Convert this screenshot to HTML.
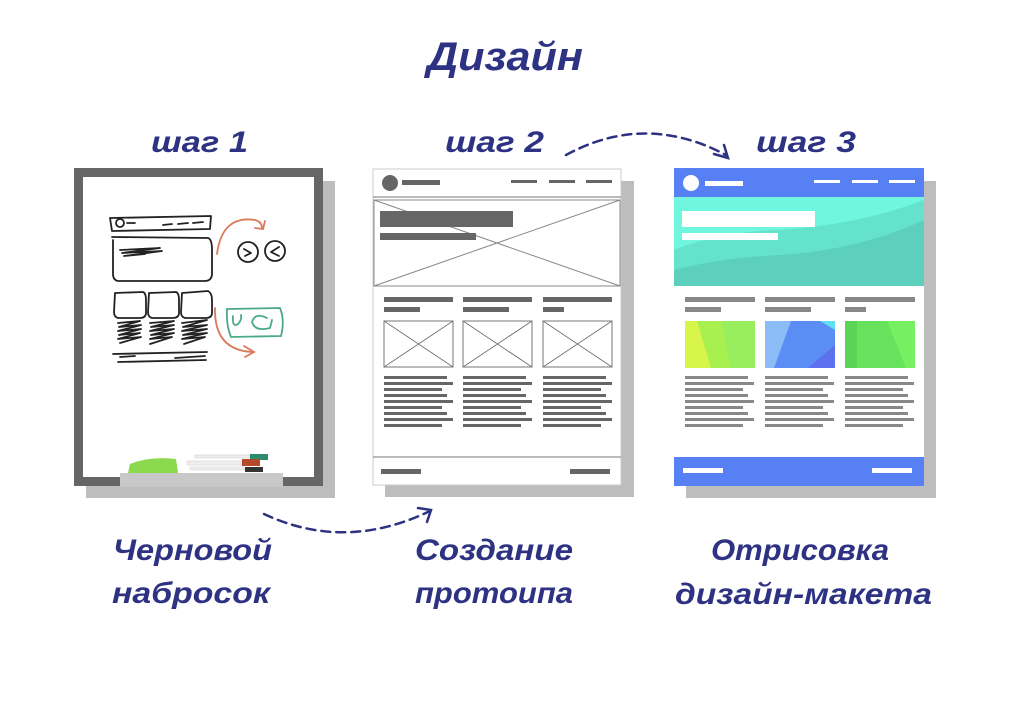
<!DOCTYPE html>
<html><head><meta charset="utf-8"><style>
html,body{margin:0;padding:0;background:#fff;}
svg{display:block;}
.t{font-family:"Liberation Sans","DejaVu Sans",sans-serif;font-weight:bold;font-style:italic;fill:#2d3282;}
</style></head><body>
<svg width="1024" height="728" viewBox="0 0 1024 728" xmlns="http://www.w3.org/2000/svg">
<rect width="1024" height="728" fill="#fff"/>
<text class="t" x="427" y="70" font-size="40" textLength="156" lengthAdjust="spacingAndGlyphs">Дизайн</text>
<text class="t" x="151" y="152" font-size="30" textLength="97" lengthAdjust="spacingAndGlyphs">шаг  1</text>
<text class="t" x="445" y="152" font-size="30" textLength="99" lengthAdjust="spacingAndGlyphs">шаг  2</text>
<text class="t" x="756" y="152" font-size="30" textLength="100" lengthAdjust="spacingAndGlyphs">шаг  3</text>
<text class="t" x="113" y="560" font-size="30" textLength="159" lengthAdjust="spacingAndGlyphs">Черновой</text>
<text class="t" x="112" y="603" font-size="30" textLength="158" lengthAdjust="spacingAndGlyphs">набросок</text>
<text class="t" x="415" y="560" font-size="30" textLength="158" lengthAdjust="spacingAndGlyphs">Создание</text>
<text class="t" x="415" y="603" font-size="30" textLength="158" lengthAdjust="spacingAndGlyphs">протоипа</text>
<text class="t" x="711" y="560" font-size="30" textLength="178" lengthAdjust="spacingAndGlyphs">Отрисовка</text>
<text class="t" x="675" y="604" font-size="30" textLength="257" lengthAdjust="spacingAndGlyphs">дизайн-макета</text>

<!-- arrows -->
<g fill="none" stroke="#2d3282" stroke-width="2.5" stroke-linecap="round">
<path d="M566 155 Q645 112 726 155" stroke-dasharray="9 6"/>
<path d="M714 154 L728 158 L724 145"/>
<path d="M264 514 Q345 552 430 511" stroke-dasharray="9 6"/>
<path d="M418 508 L431 510 L427 522"/>
</g>

<!-- card 1 whiteboard -->
<rect x="86" y="181" width="249" height="317" fill="#bdbdbd"/>
<rect x="74" y="168" width="249" height="318" fill="#666"/>
<rect x="83" y="177" width="231" height="300" fill="#fff"/>
<rect x="120" y="473" width="163" height="14" fill="#c8c8c8"/>
<path d="M128 473 L130 464 Q150 456 176 459 L178 473 Z" fill="#8cd94e"/>
<rect x="195" y="455" width="55" height="3" fill="#eee" stroke="#ccc" stroke-width=".5"/>
<rect x="250" y="454" width="18" height="6" fill="#2e8c6e"/>
<rect x="187" y="461" width="55" height="4" fill="#eee" stroke="#ccc" stroke-width=".5"/>
<rect x="242" y="459" width="18" height="7" fill="#b44a2a"/>
<rect x="190" y="467" width="55" height="3" fill="#eee" stroke="#ccc" stroke-width=".5"/>
<rect x="245" y="467" width="18" height="5" fill="#333"/>
<g fill="none" stroke="#222" stroke-width="1.8" stroke-linecap="round" stroke-linejoin="round">
<path d="M110 218 L211 216 L210 229 L112 231 Z"/>
<circle cx="120" cy="223" r="4"/>
<path d="M127 223 L135 223 M163 225 L172 224 M178 224 L188 223 M193 223 L203 222"/>
<path d="M112 237 L208 238 Q212 239 212 250 L212 275 Q211 281 205 281 L118 281 Q113 280 113 274 L113 240"/>
<path d="M120 250 L160 248 L122 253 L162 251 L124 256 L145 254"/>
<path d="M115 293 L143 292 Q146 293 146 300 L146 314 Q145 318 140 318 L118 318 Q114 317 114 312 Z"/>
<path d="M149 293 L176 292 Q179 293 179 300 L179 314 Q178 318 173 318 L152 318 Q148 317 148 312 Z"/>
<path d="M182 293 L208 291 Q212 293 212 300 L212 314 Q211 318 206 318 L185 318 Q181 317 181 312 Z"/>
<path d="M118 323 L140 321 L119 327 L141 325 L118 331 L141 329 L119 335 L140 333 L118 339 L141 337 L120 343"/>
<path d="M150 323 L174 321 L151 327 L174 325 L150 331 L174 329 L151 335 L174 333 L150 339 L172 337 L150 344"/>
<path d="M182 323 L207 320 L183 327 L207 325 L182 331 L207 329 L183 335 L207 333 L182 339 L205 337 L184 344"/>
<path d="M113 354 L207 352 M120 357 L135 356 M175 358 L205 356 M118 362 L206 360"/>
<circle cx="248" cy="252" r="10"/>
<circle cx="275" cy="251" r="10"/>
<path d="M244 249 L251 253 L245 256 M279 247 L271 252 L279 256"/>
</g>
<g fill="none" stroke="#d97a5a" stroke-width="1.8" stroke-linecap="round">
<path d="M217 254 Q222 215 255 220 Q262 222 262 228"/>
<path d="M255 228 L263 229 L265 221"/>
<path d="M215 308 Q214 350 252 352"/>
<path d="M244 346 L254 352 L245 357"/>
</g>
<g fill="none" stroke="#4aaa88" stroke-width="1.8" stroke-linecap="round">
<path d="M227 309 L280 308 Q285 320 281 336 L231 337 Q226 325 227 309 Z"/>
<path d="M233 316 Q232 328 238 324 Q242 320 241 315"/>
<path d="M267 318 Q255 312 252 322 Q255 332 270 328 L272 320"/>
</g>

<!-- card 2 wireframe -->
<rect x="385" y="181" width="249" height="316" fill="#bdbdbd"/>
<rect x="373" y="169" width="248" height="316" fill="#fff" stroke="#ccc" stroke-width="1"/>
<circle cx="390" cy="183" r="8" fill="#666"/>
<rect x="402" y="180" width="38" height="5" fill="#666"/>
<rect x="511" y="180" width="26" height="3" fill="#666"/>
<rect x="549" y="180" width="26" height="3" fill="#666"/>
<rect x="586" y="180" width="26" height="3" fill="#666"/>
<line x1="373" y1="197" x2="621" y2="197" stroke="#777" stroke-width="1"/>
<rect x="374" y="200" width="246" height="86" fill="none" stroke="#888" stroke-width="1"/>
<line x1="374" y1="200" x2="620" y2="286" stroke="#888"/>
<line x1="620" y1="200" x2="374" y2="286" stroke="#888"/>
<rect x="380" y="211" width="133" height="16" fill="#666"/>
<rect x="380" y="233" width="96" height="7" fill="#666"/>
<g fill="#666">
<rect x="384" y="297" width="69" height="5"/><rect x="384" y="307" width="36" height="5"/>
<rect x="463" y="297" width="69" height="5"/><rect x="463" y="307" width="46" height="5"/>
<rect x="543" y="297" width="69" height="5"/><rect x="543" y="307" width="21" height="5"/>
</g>
<g fill="none" stroke="#777" stroke-width="1">
<rect x="384" y="321" width="69" height="46"/><path d="M384 321 L453 367 M453 321 L384 367"/>
<rect x="463" y="321" width="69" height="46"/><path d="M463 321 L532 367 M532 321 L463 367"/>
<rect x="543" y="321" width="69" height="46"/><path d="M543 321 L612 367 M612 321 L543 367"/>
</g>
<g fill="#666">
<rect x="384" y="376" width="63" height="3"/><rect x="384" y="382" width="69" height="3"/><rect x="384" y="388" width="58" height="3"/>
<rect x="384" y="394" width="63" height="3"/><rect x="384" y="400" width="69" height="3"/><rect x="384" y="406" width="58" height="3"/>
<rect x="384" y="412" width="63" height="3"/><rect x="384" y="418" width="69" height="3"/><rect x="384" y="424" width="58" height="3"/>
<rect x="463" y="376" width="63" height="3"/><rect x="463" y="382" width="69" height="3"/><rect x="463" y="388" width="58" height="3"/>
<rect x="463" y="394" width="63" height="3"/><rect x="463" y="400" width="69" height="3"/><rect x="463" y="406" width="58" height="3"/>
<rect x="463" y="412" width="63" height="3"/><rect x="463" y="418" width="69" height="3"/><rect x="463" y="424" width="58" height="3"/>
<rect x="543" y="376" width="63" height="3"/><rect x="543" y="382" width="69" height="3"/><rect x="543" y="388" width="58" height="3"/>
<rect x="543" y="394" width="63" height="3"/><rect x="543" y="400" width="69" height="3"/><rect x="543" y="406" width="58" height="3"/>
<rect x="543" y="412" width="63" height="3"/><rect x="543" y="418" width="69" height="3"/><rect x="543" y="424" width="58" height="3"/>
<rect x="381" y="469" width="40" height="5"/><rect x="570" y="469" width="40" height="5"/>
</g>
<line x1="373" y1="457" x2="621" y2="457" stroke="#777" stroke-width="1"/>

<!-- card 3 design -->
<rect x="686" y="181" width="250" height="317" fill="#bdbdbd"/>
<rect x="674" y="168" width="250" height="318" fill="#fff"/>
<rect x="674" y="168" width="250" height="30" fill="#5780f5"/>
<rect x="674" y="197" width="250" height="89" fill="#5ccfbd"/>
<path d="M674 197 L924 197 L924 200 Q860 225 780 230 Q720 232 674 250 Z" fill="#70f5de"/>
<path d="M674 250 Q720 232 780 230 Q860 225 924 200 L924 220 Q860 250 780 255 Q720 258 674 270 Z" fill="#64e2cc"/>
<circle cx="691" cy="183" r="8" fill="#fff"/>
<rect x="705" y="181" width="38" height="5" fill="#fff"/>
<rect x="814" y="180" width="26" height="3" fill="#fff"/>
<rect x="852" y="180" width="26" height="3" fill="#fff"/>
<rect x="889" y="180" width="26" height="3" fill="#fff"/>
<rect x="682" y="211" width="133" height="16" fill="#fff"/>
<rect x="682" y="233" width="96" height="7" fill="#fff"/>
<g fill="#888">
<rect x="685" y="297" width="70" height="5"/><rect x="685" y="307" width="36" height="5"/>
<rect x="765" y="297" width="70" height="5"/><rect x="765" y="307" width="46" height="5"/>
<rect x="845" y="297" width="70" height="5"/><rect x="845" y="307" width="21" height="5"/>
</g>
<rect x="685" y="321" width="70" height="47" fill="#a8f050"/>
<path d="M685 321 L697 321 L711 368 L685 368 Z" fill="#d8f54a"/>
<path d="M722 321 L755 321 L755 368 L730 368 Z" fill="#98ee5c"/>
<rect x="765" y="321" width="70" height="47" fill="#5a8ef5"/>
<path d="M765 321 L791 321 L774 368 L765 368 Z" fill="#8cbcf7"/>
<path d="M820 321 L835 321 L835 330 Z" fill="#60e0f5"/>
<path d="M835 345 L835 368 L808 368 Z" fill="#5c70f0"/>
<rect x="845" y="321" width="70" height="47" fill="#66e25c"/>
<rect x="845" y="321" width="12" height="47" fill="#5ad455"/>
<path d="M887 321 L915 321 L915 368 L906 368 Z" fill="#76f060"/>
<g fill="#888">
<rect x="685" y="376" width="63" height="3"/><rect x="685" y="382" width="69" height="3"/><rect x="685" y="388" width="58" height="3"/>
<rect x="685" y="394" width="63" height="3"/><rect x="685" y="400" width="69" height="3"/><rect x="685" y="406" width="58" height="3"/>
<rect x="685" y="412" width="63" height="3"/><rect x="685" y="418" width="69" height="3"/><rect x="685" y="424" width="58" height="3"/>
<rect x="765" y="376" width="63" height="3"/><rect x="765" y="382" width="69" height="3"/><rect x="765" y="388" width="58" height="3"/>
<rect x="765" y="394" width="63" height="3"/><rect x="765" y="400" width="69" height="3"/><rect x="765" y="406" width="58" height="3"/>
<rect x="765" y="412" width="63" height="3"/><rect x="765" y="418" width="69" height="3"/><rect x="765" y="424" width="58" height="3"/>
<rect x="845" y="376" width="63" height="3"/><rect x="845" y="382" width="69" height="3"/><rect x="845" y="388" width="58" height="3"/>
<rect x="845" y="394" width="63" height="3"/><rect x="845" y="400" width="69" height="3"/><rect x="845" y="406" width="58" height="3"/>
<rect x="845" y="412" width="63" height="3"/><rect x="845" y="418" width="69" height="3"/><rect x="845" y="424" width="58" height="3"/>
</g>
<rect x="674" y="457" width="250" height="29" fill="#5780f5"/>
<rect x="683" y="468" width="40" height="5" fill="#fff"/>
<rect x="872" y="468" width="40" height="5" fill="#fff"/>
</svg>
</body></html>
